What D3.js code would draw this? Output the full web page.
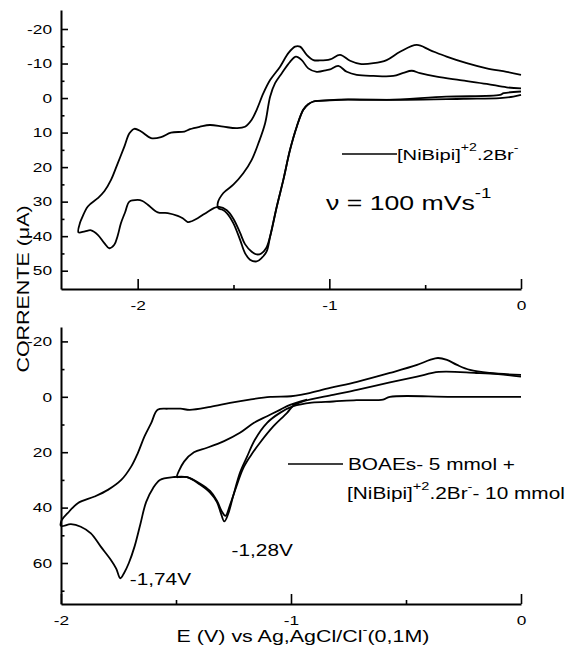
<!DOCTYPE html>
<html><head><meta charset="utf-8">
<script src="https://cdn.jsdelivr.net/npm/d3@7"></script>
<style>
body{margin:0;background:#fff}
svg{display:block}
text{font-family:Arial,"Liberation Sans",sans-serif;fill:#000}
</style>
</head><body>
<svg id="c" width="571" height="650"></svg>
<script>
// ---------- data ----------
const topXTicks = [-2, -1, 0];
const topXMinor = [-1.5, -0.5];
const topYTicks = [-20, -10, 0, 10, 20, 30, 40, 50];
const topYMinor = [-15, -5, 5, 15, 25, 35, 45];
const botXTicks = [-2, -1, 0];
const botXMinor = [-1.5, -0.5];
const botYTicks = [-20, 0, 20, 40, 60];
const botYMinor = [-10, 10, 30, 50, 70];

// top panel, scan 1 (E in V, I in uA)
const topScan1 = [[0,-1.9],[-0.09,-1.4],[-0.11,-0.9],[-0.39,-0.4],[-0.70,0.5],[-0.94,0.5],[-1.05,0.8],[-1.083,1.0],[-1.11,1.8],[-1.136,3.4],[-1.17,8.3],[-1.205,15],[-1.24,23.7],[-1.274,31.4],[-1.309,40.1],[-1.33,43.5],[-1.355,45],[-1.378,45.3],[-1.405,44.5],[-1.44,42.3],[-1.466,39],[-1.50,35],[-1.535,32.5],[-1.575,31.5],[-1.60,31.8],[-1.634,32.9],[-1.687,34.8],[-1.715,35.6],[-1.739,35.9],[-1.765,34.8],[-1.791,34.1],[-1.843,33.3],[-1.895,33.1],[-1.947,30.9],[-1.975,29.8],[-2.0,29.5],[-2.043,30],[-2.065,33],[-2.087,36.2],[-2.105,40],[-2.122,42.5],[-2.148,43.5],[-2.174,42],[-2.208,39.6],[-2.243,38.3],[-2.275,38.6],[-2.309,38.9],
 [-2.300,36],[-2.295,35.3],[-2.26,31.4],[-2.208,29],[-2.174,27],[-2.139,23.7],[-2.104,18.9],[-2.069,14],[-2.043,10.2],[-2.017,8.9],[-1.982,9.7],[-1.930,11.6],[-1.878,11.3],[-1.826,10],[-1.756,9.7],[-1.727,9.0],[-1.675,8.3],[-1.623,7.8],[-1.553,8.3],[-1.483,8.7],[-1.44,8.3],[-1.405,6.3],[-1.379,3.4],[-1.344,-1.4],[-1.309,-5.2],[-1.257,-9.1],[-1.214,-13],[-1.179,-14.9],[-1.153,-14.9],[-1.118,-12.5],[-1.083,-11],[-1.05,-10.9],[-0.996,-11.2],[-0.944,-12.5],[-0.892,-10.8],[-0.84,-9.9],[-0.77,-10.1],[-0.701,-11],[-0.631,-13.4],[-0.544,-15.4],[-0.475,-13.9],[-0.388,-12],[-0.283,-10.1],[-0.179,-8.6],[-0.075,-7.6],[0,-6.7]];

// top panel, scan 2
const topScan2 = [[0,-0.9],[-0.04,-0.4],[-0.11,0],[-0.3,0.2],[-0.6,0.5],[-0.9,0.4],[-1.0,0.6],[-1.083,1.0],[-1.11,1.8],[-1.136,3.4],[-1.17,8.3],[-1.205,15],[-1.24,23.7],[-1.274,31.4],[-1.309,40.1],[-1.327,44.4],[-1.353,46.3],[-1.379,47.3],[-1.414,46.8],[-1.44,44.9],[-1.466,41],[-1.501,36.2],[-1.535,33.3],[-1.56,32.3],[-1.579,31.9],[-1.582,30.4],[-1.553,27.5],[-1.501,25.1],[-1.449,21.8],[-1.405,17.9],[-1.370,13.1],[-1.335,7.3],[-1.309,-0.4],[-1.283,-4.3],[-1.248,-7.2],[-1.205,-10.5],[-1.174,-12],[-1.144,-11],[-1.110,-8.6],[-1.066,-7.6],[-1.014,-8.1],[-0.996,-8.3],[-0.953,-9.3],[-0.909,-7.6],[-0.857,-6.7],[-0.77,-6.4],[-0.666,-6.4],[-0.614,-7.3],[-0.57,-7.9],[-0.527,-7.2],[-0.44,-6.2],[-0.318,-5.2],[-0.179,-4.1],[-0.075,-3.1],[0,-2.8]];

// bottom panel, scan 1
const botScan1 = [[0,0],[-0.3,0],[-0.57,0],[-0.6,1.0],[-0.715,1.2],[-0.817,1.7],[-0.91,2.1],[-0.99,3.4],[-1.048,5.8],[-1.104,9.4],[-1.157,15.5],[-1.191,21.6],[-1.222,27.4],[-1.252,36],[-1.274,42.5],[-1.29,45],[-1.305,42],[-1.322,38],[-1.352,34.6],[-1.396,31.7],[-1.452,29],[-1.513,29],[-1.57,30],[-1.6,33],[-1.63,38],[-1.655,46],[-1.68,54],[-1.705,60],[-1.725,63.5],[-1.742,65.5],[-1.76,62],[-1.783,58.9],[-1.827,54.1],[-1.87,49.3],[-1.914,46.9],[-1.957,46],[-2,46.6],
 [-1.997,44.5],[-1.971,42],[-1.927,38.4],[-1.854,36],[-1.796,33.6],[-1.738,30],[-1.695,25.2],[-1.666,20.3],[-1.637,14.3],[-1.608,9.5],[-1.58,4.7],[-1.535,4.3],[-1.48,4.3],[-1.44,4.7],[-1.35,3.6],[-1.265,2.2],[-1.18,1],[-1.09,0],[-1.0,-0.2],[-0.948,-0.9],[-0.83,-3.2],[-0.713,-5.4],[-0.57,-8.6],[-0.452,-11.5],[-0.396,-13.3],[-0.361,-14],[-0.322,-13.3],[-0.278,-11.5],[-0.222,-9.7],[-0.135,-8.6],[0,-7.9]];

// bottom panel, scan 2
const botScan2 = [[0,-7.3],[-0.1,-8.2],[-0.195,-8.6],[-0.357,-9],[-0.452,-7.3],[-0.57,-5.2],[-0.713,-2.5],[-0.817,-0.7],[-0.948,1.7],[-0.99,3.2],[-1.017,5.8],[-1.078,10.8],[-1.135,16.6],[-1.178,21.6],[-1.209,26],[-1.24,33],[-1.265,39],[-1.285,43],[-1.30,41.5],[-1.322,37.5],[-1.352,34],[-1.396,31.3],[-1.452,29],[-1.49,29],[-1.496,29],[-1.465,23.4],[-1.422,20],[-1.365,18.4],[-1.291,16],[-1.222,13],[-1.161,9.4],[-1.104,7],[-1.048,4.7],[-1.004,2.9],[-0.93,1.0]];

const peakLabels = [{e:-1.74, i:65.5, text:"-1,74V"}, {e:-1.28, i:45, text:"-1,28V"}];

// ---------- drawing ----------
const SX = 1.3;
const svg = d3.select("#c");
const FONT = 'Arial,"Liberation Sans",sans-serif';

const xTop = d3.scaleLinear().domain([-2.4, 0]).range([61, 521]);
const yTop = d3.scaleLinear().domain([-25.5, 55.3]).range([10, 289]);
const xBot = d3.scaleLinear().domain([-2, 0]).range([61, 521]);
const yBot = d3.scaleLinear().domain([-25.2, 74.8]).range([327, 604]);

function stretchTicks(g){
  g.selectAll(".tick text").each(function(){
    const t = d3.select(this);
    const x = +t.attr("x") || 0, y = +t.attr("y") || 0;
    t.attr("x", null).attr("y", null).attr("transform", `translate(${x},${y}) scale(${SX},1)`);
  });
}
function styleAxis(g){
  g.attr("font-size", 13.3).attr("font-family", FONT);
  g.select(".domain").attr("stroke", "#000").attr("stroke-width", 2);
  g.selectAll(".tick line").attr("stroke", "#000").attr("stroke-width", 1.6);
  g.selectAll(".tick text").attr("fill", "#000");
  stretchTicks(g);
}
const fmt = d => String(d);

function panel(x, y, xt, xm, yt, ym){
  const gx = svg.append("g").attr("transform", `translate(0,${y.range()[1]})`)
    .call(d3.axisBottom(x).tickValues(xt).tickSizeInner(-10).tickSizeOuter(0).tickPadding(12).tickFormat(fmt));
  styleAxis(gx);
  const gxm = svg.append("g").attr("transform", `translate(0,${y.range()[1]})`)
    .call(d3.axisBottom(x).tickValues(xm).tickSizeInner(-4).tickSizeOuter(0).tickFormat(""));
  gxm.select(".domain").remove();
  gxm.selectAll(".tick line").attr("stroke", "#000").attr("stroke-width", 1.6);
  const gy = svg.append("g").attr("transform", `translate(${x.range()[0]},0)`)
    .call(d3.axisLeft(y).tickValues(yt).tickSizeInner(-7).tickSizeOuter(0).tickPadding(9).tickFormat(fmt));
  styleAxis(gy);
  const gym = svg.append("g").attr("transform", `translate(${x.range()[0]},0)`)
    .call(d3.axisLeft(y).tickValues(ym).tickSizeInner(-3.5).tickSizeOuter(0).tickFormat(""));
  gym.select(".domain").remove();
  gym.selectAll(".tick line").attr("stroke", "#000").attr("stroke-width", 1.6);
}
panel(xTop, yTop, topXTicks, topXMinor, topYTicks, topYMinor);
panel(xBot, yBot, botXTicks, botXMinor, botYTicks, botYMinor);

function drawLine(data, x, y){
  svg.append("path").datum(data)
    .attr("fill", "none").attr("stroke", "#000").attr("stroke-width", 1.8)
    .attr("stroke-linejoin", "round")
    .attr("d", d3.line().curve(d3.curveCatmullRom.alpha(0.5)).x(d => x(d[0])).y(d => y(d[1])));
}
drawLine(topScan1, xTop, yTop);
drawLine(topScan2, xTop, yTop);
drawLine(botScan1, xBot, yBot);
drawLine(botScan2, xBot, yBot);

// text helper with superscripts
function addText(x, y, size, parts, opts = {}){
  const t = svg.append("text")
    .attr("transform", `translate(${x},${y})${opts.rot ? ` rotate(${opts.rot})` : ""} scale(${SX},1)`)
    .attr("font-size", size).attr("text-anchor", opts.anchor || "start");
  let up = 0;
  parts.forEach(p => {
    const sup = typeof p !== "string";
    const s = sup ? p.sup : p;
    const ts = t.append("tspan").text(s);
    if (sup) {
      ts.attr("font-size", size * 0.7).attr("dy", -size * 0.55);
      up = size * 0.55;
    } else if (up) {
      ts.attr("dy", up); up = 0;
    }
  });
  return t;
}

// legends
svg.append("line").attr("x1", 342).attr("x2", 397).attr("y1", 154).attr("y2", 154).attr("stroke", "#000").attr("stroke-width", 1.6);
addText(397, 160, 15.5, ["[NiBipi]", {sup:"+2"}, ".2Br", {sup:"-"}]);
addText(326, 209.5, 20.5, ["ν = 100 mVs", {sup:"-1"}]);

svg.append("line").attr("x1", 288).attr("x2", 343).attr("y1", 464).attr("y2", 464).attr("stroke", "#000").attr("stroke-width", 1.6);
addText(348, 470, 16, ["BOAEs- 5 mmol +"]);
addText(347, 499, 16, ["[NiBipi]", {sup:"+2"}, ".2Br", {sup:"-"}, "- 10 mmol"]);

// peak annotations
addText(xBot(peakLabels[0].e) + 9, yBot(peakLabels[0].i) + 7, 16, [peakLabels[0].text]);
addText(xBot(peakLabels[1].e) + 5, yBot(peakLabels[1].i) + 35, 16, [peakLabels[1].text]);

// axis titles
addText(303, 642, 16.5, ["E (V) vs Ag,AgCl/Cl", {sup:"-"}, "(0,1M)"], {anchor:"middle"});
addText(29, 289, 16.5, ["CORRENTE (μA)"], {anchor:"middle", rot:-90});
</script>
</body></html>
